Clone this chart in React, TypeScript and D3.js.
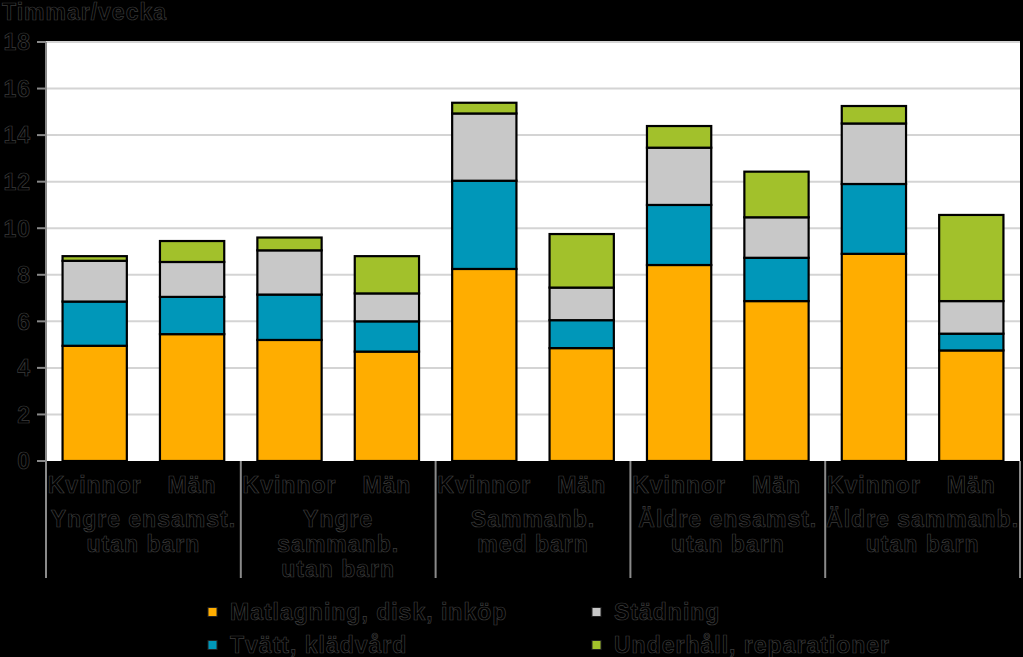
import React from "react";
import * as d3 from "d3";

const groups = [
  ["Yngre ensamst.", "utan barn"],
  ["Yngre", "sammanb.", "utan barn"],
  ["Sammanb.", "med barn"],
  ["Äldre ensamst.", "utan barn"],
  ["Äldre sammanb.", "utan barn"],
];
const sexes = ["Kvinnor", "Män"];
const seriesNames = ["Matlagning, disk, inköp", "Tvätt, klädvård", "Städning", "Underhåll, reparationer"];
const seriesColors = ["#FFAD00", "#0097B9", "#C8C8C8", "#A2C12B"];

// values per bar (Kvinnor, Män for each group)
const matlagning = [4.95, 5.45, 5.2, 4.7, 8.25, 4.85, 8.42, 6.87, 8.9, 4.75];
const tvatt = [1.9, 1.6, 1.95, 1.3, 3.79, 1.2, 2.58, 1.86, 3.0, 0.72];
const stadning = [1.75, 1.5, 1.9, 1.2, 2.89, 1.4, 2.46, 1.74, 2.6, 1.4];
const underhall = [0.2, 0.9, 0.55, 1.6, 0.46, 2.3, 0.93, 1.96, 0.75, 3.7];
const yTicks = [0, 2, 4, 6, 8, 10, 12, 14, 16, 18];

const W = 1023, H = 657;
const L = 46, R = 1020, T = 42, B = 461;

const txt: React.CSSProperties = {
  fontFamily: "'Liberation Sans', Arial, sans-serif",
  fontWeight: 700,
  fontSize: 23,
  fill: "#000",
  stroke: "#3c3c3c",
  strokeWidth: 0.7,
  letterSpacing: 1,
};

export default function App() {
  const keys = groups.flatMap((_, gi) => sexes.map((s) => `${gi}-${s}`));
  const x = d3.scaleBand<string>().domain(keys).range([L, R]).paddingInner(0.34).paddingOuter(0.17);
  const y = d3.scaleLinear().domain([0, 18]).range([B, T]);
  const rows = keys.map((k, i) => ({
    key: k,
    s0: matlagning[i], s1: tvatt[i], s2: stadning[i], s3: underhall[i],
  }));
  const stack = d3.stack<any>().keys(["s0", "s1", "s2", "s3"])(rows);
  const groupW = (R - L) / groups.length;

  return (
    <svg width={W} height={H} style={{ position: "absolute", left: 0, top: 0, background: "#000" }}>
      <rect x={0} y={0} width={W} height={H} fill="#000" />
      <rect x={L} y={T} width={R - L} height={B - T} fill="#fff" />
      {yTicks.map((t) => (
        <g key={t}>
          {t > 0 && <line x1={L} x2={R} y1={y(t)} y2={y(t)} stroke="#d4d4d4" strokeWidth={2} />}
          <line x1={37} x2={L} y1={y(t)} y2={y(t)} stroke="#8a8a8a" strokeWidth={2} />
          <text x={31} y={y(t)} dy="0.36em" textAnchor="end" style={txt}>{t}</text>
        </g>
      ))}
      <line x1={L} x2={L} y1={T} y2={B} stroke="#8a8a8a" strokeWidth={2} />
      {stack.map((layer, li) => (
        <g key={li}>
          {layer.map((d, i) => (
            <rect
              key={i}
              x={x(keys[i])!}
              width={x.bandwidth()}
              y={y(d[1])}
              height={y(d[0]) - y(d[1])}
              fill={seriesColors[li]}
              stroke="#000"
              strokeWidth={2.2}
            />
          ))}
        </g>
      ))}
      {d3.range(groups.length + 1).map((i) => (
        <line key={i} x1={L + i * groupW} x2={L + i * groupW} y1={B} y2={578} stroke="#8a8a8a" strokeWidth={2} />
      ))}
      {keys.map((k, i) => (
        <text key={k} x={x(k)! + x.bandwidth() / 2} y={493} textAnchor="middle" style={txt}>
          {sexes[i % 2]}
        </text>
      ))}
      {groups.map((g, gi) => (
        <text key={gi} x={L + (gi + 0.5) * groupW} y={527} textAnchor="middle" style={txt}>
          {g.map((line, li) => (
            <tspan key={li} x={L + (gi + 0.5) * groupW} dy={li === 0 ? 0 : 25}>{line}</tspan>
          ))}
        </text>
      ))}
      <text x={2} y={20} style={txt}>Timmar/vecka</text>
      {seriesNames.map((n, i) => {
        const col = i === 0 || i === 1 ? 0 : 1;
        const row = i === 0 || i === 2 ? 0 : 1;
        const sx = col === 0 ? 208 : 592;
        const cy = row === 0 ? 612 : 645;
        return (
          <g key={n}>
            <rect x={sx} y={cy - 4.5} width={9} height={9} fill={seriesColors[i]} stroke="#222" strokeWidth={1} />
            <text x={sx + 22} y={cy + 8} style={txt}>{n}</text>
          </g>
        );
      })}
    </svg>
  );
}
